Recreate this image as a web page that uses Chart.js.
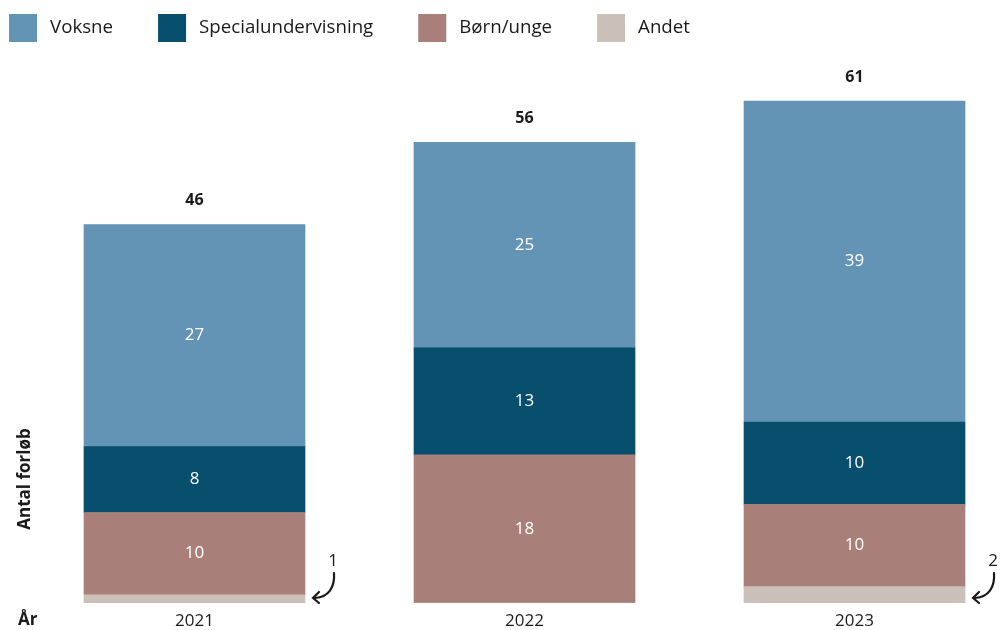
<!DOCTYPE html>
<html><head><meta charset="utf-8">
<script src="https://cdn.jsdelivr.net/npm/chart.js@4/dist/chart.umd.min.js"></script>
<style>html,body{margin:0;padding:0;background:#fff;overflow:hidden}#wrap{width:1001px;height:630px;position:relative}</style>
</head><body><div id="wrap"><canvas id="c"></canvas></div>
<script>
// ---- data ----
const years = ['2021', '2022', '2023'];
const voksne = [27, 25, 39];
const specialundervisning = [8, 13, 10];
const bornUnge = [10, 18, 10];
const andet = [1, 0, 2];
const totals = [46, 56, 61];
const legendOrder = ['Voksne', 'Specialundervisning', 'Børn/unge', 'Andet'];
const yAxisTitle = 'Antal forløb';
const xAxisTitle = 'År';

// ---- styles ----
const FONT = '"Open Sans", "Noto Sans", sans-serif';
const COLORS = {
  'Voksne': '#6393b5',
  'Specialundervisning': '#084f6e',
  'Børn/unge': '#a88079',
  'Andet': '#cbbfba'
};
const TEXT = '#1a1a1a';

function pts(arr) { return arr.map((v, i) => ({ x: i, y: v })); }

const datasets = [
  { label: 'Andet', data: pts(andet), inside: false, note: true },
  { label: 'Børn/unge', data: pts(bornUnge), inside: true },
  { label: 'Specialundervisning', data: pts(specialundervisning), inside: true },
  { label: 'Voksne', data: pts(voksne), inside: true }
].map(d => Object.assign(d, { backgroundColor: COLORS[d.label], borderWidth: 0, barThickness: 221 }));

const labelsPlugin = {
  id: 'labels',
  afterDatasetsDraw(chart) {
    const ctx = chart.ctx;
    const ca = chart.chartArea;
    ctx.save();
    ctx.textAlign = 'center';
    ctx.textBaseline = 'middle';
    chart.data.datasets.forEach((ds, di) => {
      const meta = chart.getDatasetMeta(di);
      meta.data.forEach((bar, i) => {
        const v = ds.data[i].y;
        if (!v) return;
        if (ds.inside) {
          ctx.fillStyle = '#ffffff';
          ctx.font = '17px ' + FONT;
          ctx.fillText(String(v), bar.x, (bar.y + bar.base) / 2);
        } else if (ds.note) {
          const right = bar.x + bar.width / 2;
          const base = bar.base;
          ctx.fillStyle = TEXT;
          ctx.font = '17px ' + FONT;
          ctx.fillText(String(v), right + 28, base - 42);
          ctx.strokeStyle = TEXT;
          ctx.lineWidth = 2.2;
          ctx.lineCap = 'round';
          ctx.beginPath();
          ctx.moveTo(right + 29, base - 30);
          ctx.bezierCurveTo(right + 30, base - 16, right + 24, base - 6, right + 10, base - 5);
          ctx.stroke();
          ctx.beginPath();
          ctx.moveTo(right + 14, base - 11);
          ctx.lineTo(right + 8, base - 5);
          ctx.lineTo(right + 14, base + 0);
          ctx.stroke();
        }
      });
    });
    const topMeta = chart.getDatasetMeta(chart.data.datasets.length - 1);
    ctx.fillStyle = TEXT;
    ctx.font = 'bold 16px ' + FONT;
    topMeta.data.forEach((bar, i) => {
      ctx.fillText(String(totals[i]), bar.x, bar.y - 24);
    });
    ctx.font = 'bold 17px ' + FONT;
    ctx.textAlign = 'left';
    ctx.fillText(xAxisTitle, 18, ca.bottom + 17);
    ctx.save();
    ctx.translate(25, ca.bottom - 124);
    ctx.rotate(-Math.PI / 2);
    ctx.textAlign = 'center';
    ctx.fillText(yAxisTitle, 0, 0);
    ctx.restore();
    ctx.restore();
  },
  afterDraw(chart) {
    const ctx = chart.ctx;
    ctx.save();
    ctx.font = '18.7px ' + FONT;
    ctx.textBaseline = 'middle';
    ctx.textAlign = 'left';
    let x = 9;
    const y = 28;
    legendOrder.forEach(name => {
      ctx.fillStyle = COLORS[name];
      ctx.fillRect(x, y - 14, 28, 28);
      x += 28 + 13;
      ctx.fillStyle = TEXT;
      ctx.fillText(name, x, y);
      x += ctx.measureText(name).width + 45;
    });
    ctx.restore();
  }
};

new Chart(document.getElementById('c'), {
  type: 'bar',
  data: { datasets },
  options: {
    responsive: true,
    maintainAspectRatio: false,
    animation: false,
    layout: { padding: { top: 60, left: 0, right: 0, bottom: -10 } },
    plugins: { legend: { display: false }, tooltip: { enabled: false } },
    scales: {
      x: {
        type: 'linear',
        stacked: true,
        offset: false,
        min: -0.5894,
        max: 2.4439,
        grid: { display: false, drawTicks: false, offset: false },
        border: { display: false },
        afterBuildTicks: s => { s.ticks = years.map((_, i) => ({ value: i })); },
        ticks: {
          color: TEXT,
          padding: 10,
          font: { family: FONT, size: 17, lineHeight: 1 },
          callback: v => years[v] !== undefined ? years[v] : ''
        }
      },
      y: { stacked: true, min: 0, max: 66, display: false }
    }
  },
  plugins: [labelsPlugin]
});
</script>
</body></html>
